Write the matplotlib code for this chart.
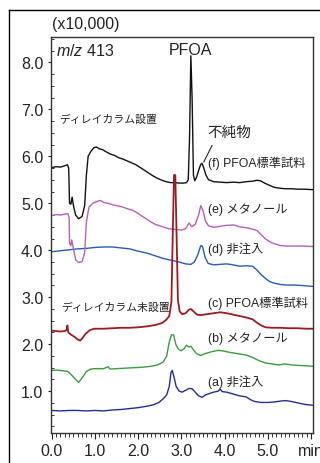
import matplotlib
matplotlib.use("Agg")
import matplotlib.pyplot as plt
from matplotlib.ticker import MultipleLocator, FixedLocator
from matplotlib.lines import Line2D

plt.rcParams['font.family'] = ['Liberation Sans', 'Noto Sans CJK JP']
plt.rcParams['mathtext.fontset'] = 'custom'
plt.rcParams['mathtext.it'] = 'Liberation Sans:italic'
plt.rcParams['mathtext.rm'] = 'Liberation Sans'

# ---------------- data (time in min, intensity in x10,000) ----------------
t_f = [0.00, 0.10, 0.20, 0.30, 0.36, 0.39, 0.41, 0.44, 0.47, 0.50, 0.55, 0.62, 0.70, 0.76, 0.80, 0.84,
       0.90, 0.97, 1.03, 1.10, 1.18, 1.25, 1.35, 1.45, 1.55, 1.65, 1.75, 1.85, 1.95, 2.05, 2.15, 2.25,
       2.35, 2.45, 2.55, 2.65, 2.75, 2.85, 2.95, 3.05, 3.12, 3.16, 3.19, 3.22, 3.25, 3.28, 3.31, 3.35,
       3.40, 3.45, 3.48, 3.52, 3.57, 3.63, 3.75, 3.90, 4.05, 4.21, 4.35, 4.50, 4.65, 4.75, 4.83, 4.95,
       5.05, 5.15, 5.29, 5.40, 5.55, 5.70, 5.85, 6.05]
v_f = [5.76, 5.78, 5.77, 5.80, 5.82, 5.75, 5.00, 4.98, 5.13, 4.95, 4.75, 4.67, 4.72, 4.95, 5.60, 6.00,
       6.10, 6.18, 6.20, 6.16, 6.14, 6.10, 6.05, 6.02, 5.97, 5.94, 5.90, 5.86, 5.82, 5.76, 5.70, 5.64,
       5.58, 5.53, 5.49, 5.46, 5.44, 5.44, 5.43, 5.43, 5.44, 5.50, 6.40, 8.14, 7.20, 5.60, 5.48, 5.55,
       5.70, 5.83, 5.85, 5.75, 5.60, 5.50, 5.46, 5.45, 5.44, 5.45, 5.44, 5.46, 5.47, 5.49, 5.48, 5.42,
       5.38, 5.34, 5.32, 5.31, 5.31, 5.30, 5.30, 5.29]

t_e = [0.00, 0.10, 0.20, 0.30, 0.37, 0.40, 0.41, 0.44, 0.46, 0.49, 0.55, 0.62, 0.70, 0.76, 0.80, 0.86,
       0.95, 1.05, 1.12, 1.20, 1.30, 1.40, 1.50, 1.60, 1.70, 1.80, 1.90, 2.00, 2.10, 2.20, 2.30, 2.40,
       2.50, 2.60, 2.70, 2.80, 2.90, 3.00, 3.10, 3.18, 3.24, 3.32, 3.40, 3.45, 3.50, 3.56, 3.63, 3.75,
       3.90, 4.05, 4.21, 4.35, 4.50, 4.65, 4.75, 4.85, 4.95, 5.05, 5.15, 5.29, 5.45, 5.60, 5.80, 6.05]
v_e = [4.74, 4.76, 4.75, 4.77, 4.78, 4.70, 4.15, 4.10, 4.22, 4.08, 3.80, 3.74, 3.76, 3.95, 4.60, 4.92,
       5.00, 5.04, 5.06, 5.02, 5.00, 4.97, 4.95, 4.93, 4.90, 4.87, 4.84, 4.78, 4.72, 4.66, 4.60, 4.55,
       4.52, 4.49, 4.46, 4.45, 4.44, 4.43, 4.46, 4.58, 4.50, 4.55, 4.75, 4.95, 4.85, 4.62, 4.52, 4.49,
       4.51, 4.53, 4.54, 4.50, 4.48, 4.45, 4.42, 4.33, 4.24, 4.18, 4.14, 4.10, 4.09, 4.09, 4.09, 4.08]

t_d = [0.00, 0.20, 0.40, 0.60, 0.80, 1.00, 1.20, 1.40, 1.60, 1.80, 2.00, 2.20, 2.40, 2.60, 2.80, 2.95,
       3.10, 3.22, 3.30, 3.38, 3.45, 3.49, 3.55, 3.62, 3.75, 3.90, 4.05, 4.20, 4.35, 4.50, 4.65, 4.75,
       4.85, 4.95, 5.05, 5.15, 5.30, 5.45, 5.60, 5.80, 6.05]
v_d = [3.97, 3.99, 4.01, 4.03, 4.04, 4.06, 4.07, 4.07, 4.05, 4.03, 3.98, 3.94, 3.88, 3.82, 3.78, 3.75,
       3.71, 3.70, 3.75, 3.90, 4.10, 4.08, 3.85, 3.72, 3.69, 3.70, 3.71, 3.69, 3.66, 3.67, 3.66, 3.58,
       3.48, 3.40, 3.33, 3.30, 3.27, 3.26, 3.26, 3.25, 3.23]

t_c = [0.00, 0.10, 0.20, 0.30, 0.34, 0.36, 0.38, 0.45, 0.52, 0.60, 0.66, 0.70, 0.78, 0.88, 0.98, 1.20,
       1.40, 1.60, 1.80, 2.00, 2.20, 2.40, 2.55, 2.65, 2.72, 2.77, 2.80, 2.83, 2.86, 2.89, 2.92, 2.96,
       3.02, 3.10, 3.17, 3.22, 3.28, 3.36, 3.45, 3.60, 3.75, 3.90, 4.05, 4.20, 4.35, 4.50, 4.65, 4.75,
       4.85, 4.95, 5.10, 5.30, 5.50, 5.70, 5.90, 6.05]
v_c = [2.29, 2.28, 2.27, 2.28, 2.30, 2.40, 2.25, 2.20, 2.16, 2.10, 2.08, 2.12, 2.22, 2.30, 2.33, 2.33,
       2.34, 2.35, 2.35, 2.36, 2.38, 2.41, 2.45, 2.52, 2.60, 2.90, 4.30, 5.60, 5.60, 4.30, 2.95, 2.70,
       2.64, 2.66, 2.73, 2.75, 2.70, 2.63, 2.62, 2.64, 2.66, 2.68, 2.66, 2.63, 2.60, 2.57, 2.53, 2.46,
       2.40, 2.36, 2.35, 2.35, 2.34, 2.34, 2.33, 2.33]

t_b = [0.00, 0.10, 0.20, 0.30, 0.37, 0.45, 0.55, 0.62, 0.70, 0.80, 0.90, 1.00, 1.20, 1.30, 1.35, 1.50,
       1.70, 1.90, 2.10, 2.30, 2.45, 2.58, 2.66, 2.72, 2.77, 2.82, 2.87, 2.93, 2.99, 3.06, 3.12, 3.17,
       3.22, 3.28, 3.35, 3.45, 3.55, 3.70, 3.85, 3.95, 4.10, 4.30, 4.50, 4.65, 4.80, 4.95, 5.10, 5.25,
       5.40, 5.55, 5.70, 5.90, 6.05]
v_b = [1.44, 1.45, 1.44, 1.43, 1.42, 1.35, 1.25, 1.19, 1.28, 1.42, 1.47, 1.48, 1.48, 1.52, 1.47, 1.48,
       1.49, 1.50, 1.51, 1.53, 1.56, 1.62, 1.75, 2.05, 2.20, 2.20, 2.00, 1.90, 1.86, 1.90, 1.98, 1.94,
       1.96, 1.88, 1.80, 1.76, 1.80, 1.84, 1.87, 1.86, 1.83, 1.80, 1.77, 1.72, 1.65, 1.60, 1.58, 1.56,
       1.58, 1.56, 1.55, 1.54, 1.53]

t_a = [0.00, 0.20, 0.40, 0.60, 0.80, 1.00, 1.20, 1.40, 1.60, 1.80, 2.00, 2.20, 2.35, 2.48, 2.58, 2.66,
       2.72, 2.76, 2.79, 2.83, 2.88, 2.95, 3.02, 3.10, 3.18, 3.25, 3.32, 3.40, 3.48, 3.56, 3.65, 3.75,
       3.85, 3.90, 3.95, 4.05, 4.20, 4.35, 4.50, 4.60, 4.70, 4.85, 5.00, 5.15, 5.30, 5.42, 5.55, 5.70,
       5.85, 6.05]
v_a = [0.59, 0.58, 0.59, 0.59, 0.58, 0.59, 0.58, 0.60, 0.61, 0.63, 0.65, 0.68, 0.71, 0.76, 0.84, 0.92,
       1.10, 1.40, 1.44, 1.30, 1.10, 1.00, 0.98, 1.02, 1.06, 1.05, 0.98, 0.90, 0.87, 0.92, 0.95, 0.98,
       1.00, 1.04, 0.99, 0.98, 0.94, 0.90, 0.88, 0.82, 0.78, 0.76, 0.76, 0.77, 0.79, 0.80, 0.78, 0.75,
       0.72, 0.70]

series_labels = ["(f) PFOA標準試料", "(e) メタノール", "(d) 非注入",
                 "(c) PFOA標準試料", "(b) メタノール", "(a) 非注入"]
x_ticks = [0.0, 1.0, 2.0, 3.0, 4.0, 5.0, 6.0]
x_ticklabels = ["0.0", "1.0", "2.0", "3.0", "4.0", "5.0", "min"]
y_ticks = [1.0, 2.0, 3.0, 4.0, 5.0, 6.0, 7.0, 8.0]
y_ticklabels = ["1.0", "2.0", "3.0", "4.0", "5.0", "6.0", "7.0", "8.0"]

# ---------------- figure ----------------
W, H = 320, 464
fig = plt.figure(figsize=(W / 100, H / 100), dpi=100)
fig.patch.set_facecolor('white')

# outer frame (left and top edges visible)
fig.add_artist(Line2D([9 / W, 9 / W], [0, 1 - 11 / H], color='black', lw=1.0))
fig.add_artist(Line2D([9 / W, 1.0], [1 - 11 / H, 1 - 11 / H], color='black', lw=1.0))

ax = fig.add_axes([51 / W, 1 - 434 / H, (313 - 51) / W, (434 - 38) / H])
ax.set_xlim(-0.02, 6.05)
ax.set_ylim(0.11, 8.54)

lw = 1.0
ax.plot(t_a, v_a, color='#222E96', lw=lw)
ax.plot(t_b, v_b, color='#3C9A40', lw=lw)
ax.plot(t_d, v_d, color='#2A5BB5', lw=lw)
ax.plot(t_e, v_e, color='#B462B6', lw=lw)
ax.plot(t_f, v_f, color='#111111', lw=lw)
ax.plot(t_c, v_c, color='#9A1C22', lw=1.3)

for s in ax.spines.values():
    s.set_color('#333333')
    s.set_linewidth(1.0)

ax.xaxis.set_major_locator(FixedLocator(x_ticks))
ax.set_xticklabels(x_ticklabels)
ax.xaxis.set_minor_locator(MultipleLocator(0.1))
ax.yaxis.set_major_locator(FixedLocator(y_ticks))
ax.set_yticklabels(y_ticklabels)
ax.yaxis.set_minor_locator(MultipleLocator(0.25))

ax.tick_params(axis='x', which='major', direction='out', length=4.5, width=0.8,
               labelsize=11.5, pad=3, colors='#222222')
ax.tick_params(axis='x', which='minor', direction='out', length=3, width=0.7, colors='#333333')
ax.tick_params(axis='y', which='major', direction='out', length=2.5, width=0.8,
               labelsize=11.5, pad=3, colors='#222222')
ax.tick_params(axis='y', which='minor', direction='in', length=2.5, width=0.7, colors='#333333')

fam = ['Liberation Sans', 'Noto Sans CJK JP']
tc = '#222222'
fig.text(52 / W, 1 - 25 / H, "(x10,000)", fontsize=11.5, family=fam, color=tc,
         ha='left', va='center')
ax.text(0.09, 8.26, r"$\it{m/z}$ 413", fontsize=11.5, color=tc, ha='left', va='center')
ax.text(3.21, 8.28, "PFOA", fontsize=11.5, family=fam, color=tc, ha='center', va='center')
ax.text(0.16, 6.81, "ディレイカラム設置", fontsize=7.8, family=fam, color=tc, ha='left', va='center')
ax.text(3.60, 6.52, "不純物", fontsize=10.5, family=fam, color=tc, ha='left', va='center')
ax.plot([3.71, 3.52], [6.23, 5.88], color='#222222', lw=0.8)
ax.text(0.21, 2.79, "ディレイカラム未設置", fontsize=7.8, family=fam, color=tc, ha='left', va='center')

label_y = [5.87, 4.88, 4.04, 2.90, 2.13, 1.22]
for lab, yy in zip(series_labels, label_y):
    ax.text(3.61, yy, lab, fontsize=8.8, family=fam, color=tc, ha='left', va='center')

fig.savefig("out.png", dpi=100, facecolor='white')
